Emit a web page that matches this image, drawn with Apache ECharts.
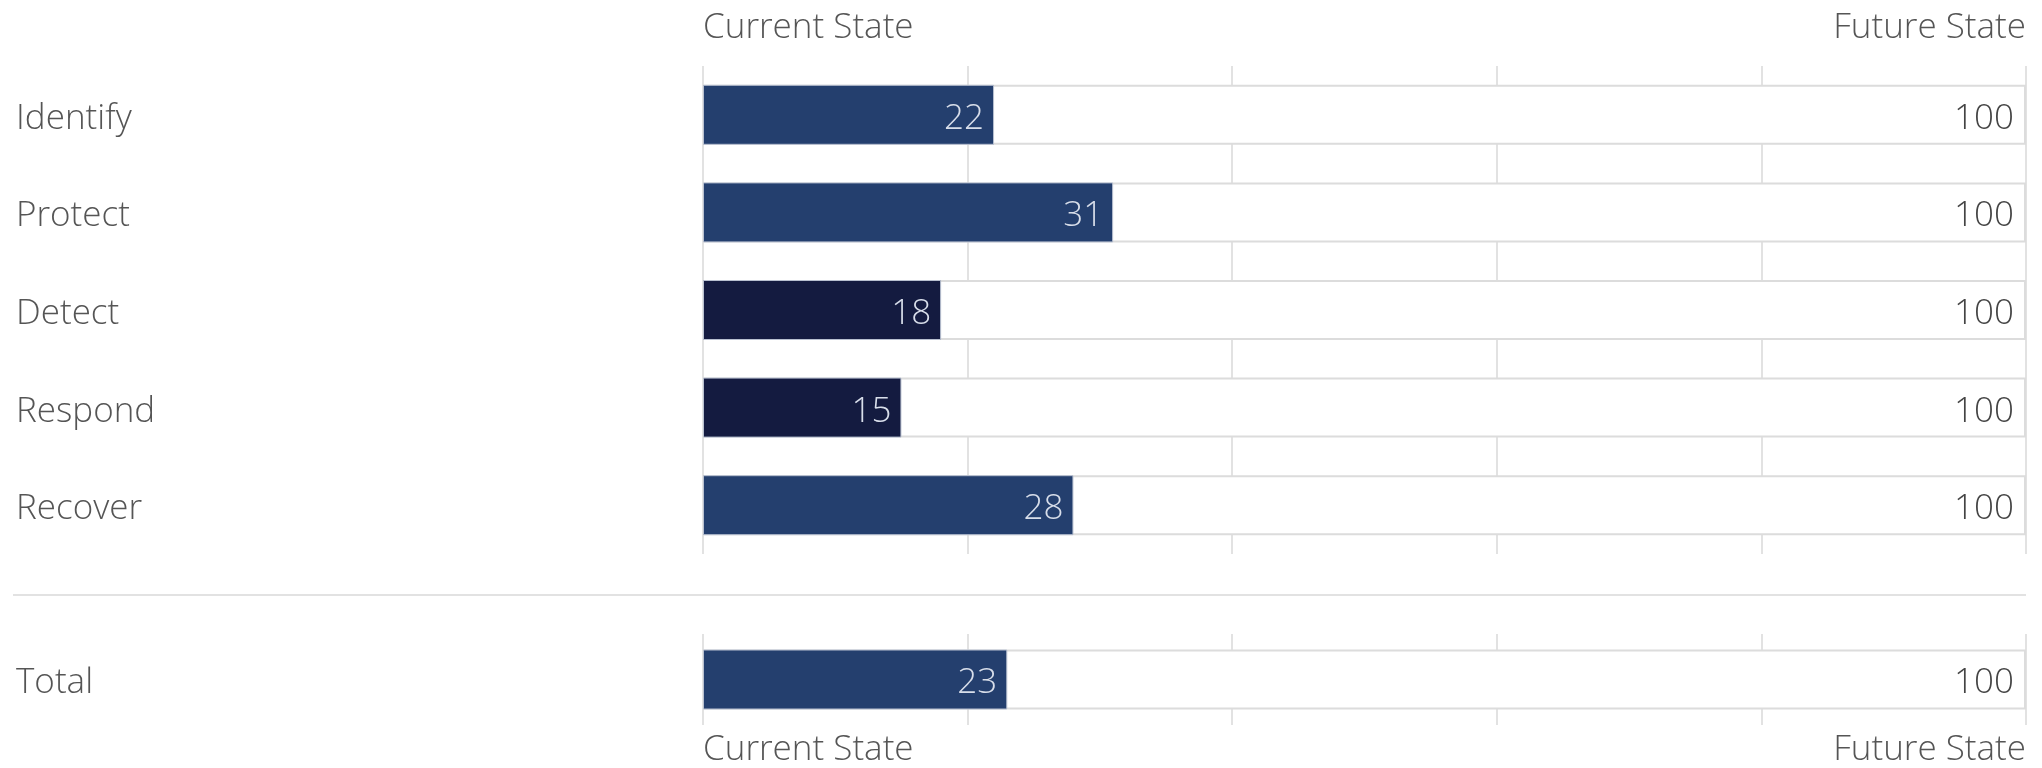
<!DOCTYPE html>
<html>
<head>
<meta charset="utf-8">
<script src="https://cdn.jsdelivr.net/npm/echarts@6/dist/echarts.min.js"></script>
<style>
html,body{margin:0;padding:0;background:#fff;}
#chart{width:2042px;height:768px;}
</style>
</head>
<body>
<div id="chart"></div>
<script>
const categories = ['Identify', 'Protect', 'Detect', 'Respond', 'Recover'];
const currentValues = [22, 31, 18, 15, 28];
const futureValues = [100, 100, 100, 100, 100];
const barColors = ['#243f6e', '#243f6e', '#141b40', '#141b40', '#243f6e'];
const totalCategory = ['Total'];
const totalCurrent = [23];
const totalFuture = [100];
const totalColor = '#243f6e';
const axisEndLabels = { min: 'Current State', max: 'Future State' };

const FONT = '"Open Sans", sans-serif';
const FS = 35;
const textColor = '#555';

function xAxisFor(gridIndex, position, margin) {
  return {
    type: 'value', gridIndex: gridIndex, position: position,
    min: 0, max: 100, interval: 20,
    axisLine: { show: false }, axisTick: { show: false },
    splitLine: { show: true, lineStyle: { color: '#e2e2e2', width: 2 } },
    axisLabel: {
      show: true, margin: margin, fontFamily: FONT, fontSize: FS, fontWeight: 300, color: textColor,
      alignMinLabel: 'left', alignMaxLabel: 'right',
      formatter: function (v) { return v === 0 ? axisEndLabels.min : (v === 100 ? axisEndLabels.max : ''); }
    }
  };
}
function yAxisFor(gridIndex, data) {
  return {
    type: 'category', gridIndex: gridIndex, data: data, inverse: true,
    axisLine: { show: false }, axisTick: { show: false }, splitLine: { show: false },
    axisLabel: {
      show: true, align: 'left', margin: 687, color: textColor,
      formatter: function (v) { return '{t|' + v + '}'; },
      rich: { t: { fontFamily: FONT, fontSize: FS, fontWeight: 300, color: textColor, padding: [8, 0, 0, 0] } }
    }
  };
}
function bgSeries(xi, yi, data) {
  return {
    type: 'bar', xAxisIndex: xi, yAxisIndex: yi, data: data, barWidth: 60, barGap: '-100%', silent: true,
    itemStyle: { color: '#ffffff', borderColor: '#dcdcdc', borderWidth: 2 },
    label: { show: true, position: 'insideRight', distance: 12, offset: [0, 4], fontFamily: FONT, fontSize: FS, fontWeight: 300, color: '#444' },
    z: 2
  };
}
function curSeries(xi, yi, data, colors) {
  return {
    type: 'bar', xAxisIndex: xi, yAxisIndex: yi, barWidth: 60, barGap: '-100%',
    data: data.map(function (v, i) { return { value: v, itemStyle: { color: colors[i] } }; }),
    itemStyle: { borderColor: '#b8c0d0', borderWidth: 1 },
    label: { show: true, position: 'insideRight', distance: 10, offset: [0, 4], fontFamily: FONT, fontSize: FS, fontWeight: 300, color: '#d8deea' },
    z: 3
  };
}

const chart = echarts.init(document.getElementById('chart'), null, { renderer: 'canvas' });
chart.setOption({
  animation: false,
  backgroundColor: '#ffffff',
  grid: [
    { left: 703, right: 16, top: 66, height: 488 },
    { left: 703, right: 16, top: 634, height: 96 }
  ],
  xAxis: [xAxisFor(0, 'top', 20), xAxisFor(1, 'bottom', 8)],
  yAxis: [yAxisFor(0, categories), yAxisFor(1, totalCategory)],
  graphic: [{
    type: 'line', shape: { x1: 13, y1: 595, x2: 2026, y2: 595 },
    style: { stroke: '#e2e2e2', lineWidth: 2 }, silent: true
  }],
  series: [
    bgSeries(0, 0, futureValues),
    curSeries(0, 0, currentValues, barColors),
    bgSeries(1, 1, totalFuture),
    curSeries(1, 1, totalCurrent, [totalColor])
  ]
});
</script>
</body>
</html>
